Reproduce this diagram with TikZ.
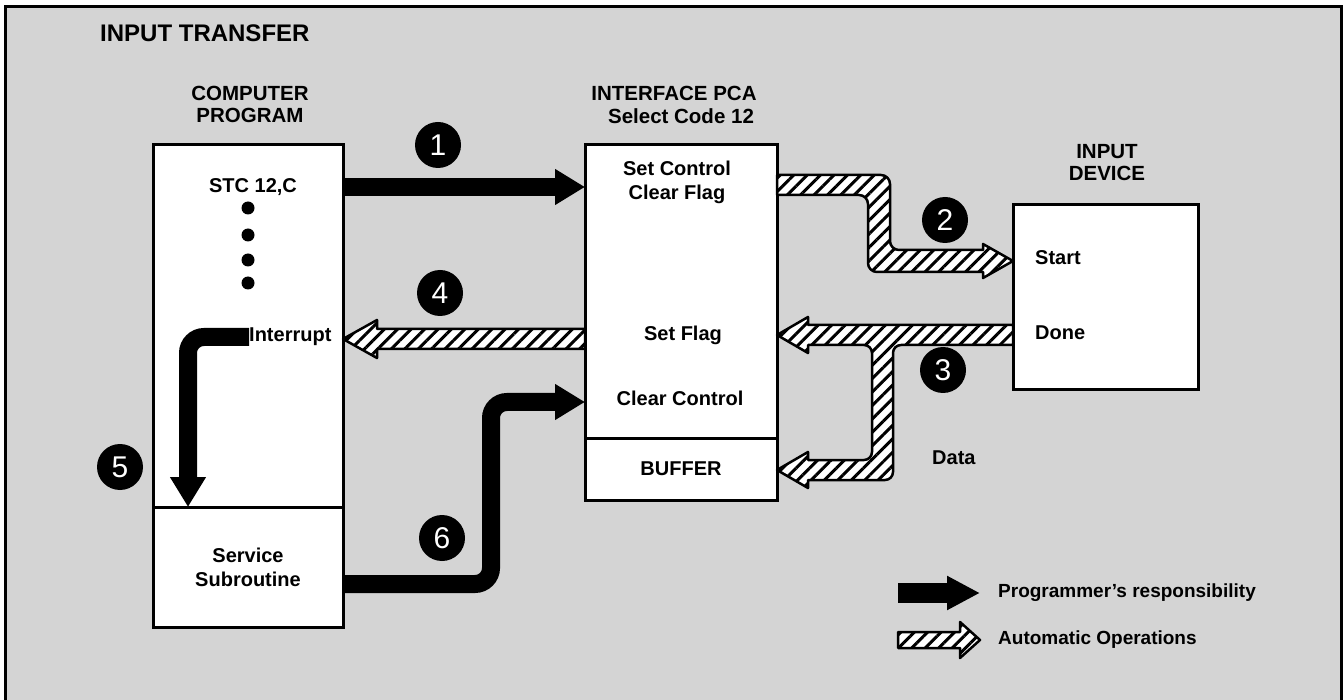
\documentclass[tikz,border=0pt]{standalone}
\usepackage{fontspec}
\setmainfont{Liberation Sans}
\usetikzlibrary{arrows.meta,patterns.meta,calc}
\tikzset{
  box/.style={draw, line width=3pt, fill=white, inner sep=0pt, outer sep=0pt},
  lbl/.style={font=\bfseries\fontsize{20}{24}\selectfont, inner sep=0pt, align=center},
  head/.style={font=\bfseries\fontsize{20.5}{22}\selectfont, inner sep=0pt, align=center},
  legtext/.style={font=\bfseries\fontsize{19}{22}\selectfont, inner sep=0pt, anchor=west},
  num/.style={circle, fill=black, minimum size=46pt, inner sep=0pt, text=white, font=\fontsize{30}{30}\selectfont},
  blk/.style={line width=18pt, -{Triangle[length=30pt,width=34pt]}},
  hatch/.style={fill=white, postaction={pattern={Lines[angle=45,distance=9.5pt,line width=3pt]}}, postaction={draw, line width=2.5pt, line join=round}},
  dotmark/.style={circle, fill=black, minimum size=13pt, inner sep=0pt},
}
\begin{document}
\begin{tikzpicture}[x=1pt, y=-1pt]
\useasboundingbox (0,0) rectangle (1344,700);
% background and frame
\fill[black!17] (5,7) rectangle (1341,700);
\draw[line width=3pt] (5,700) -- (5,7) -- (1341,7) -- (1341,700);

% titles
\node[font=\bfseries\fontsize{24}{26}\selectfont, inner sep=0pt, anchor=west] (title) at (100,33) {INPUT TRANSFER};
\node[head] (comphead) at (250,104) {COMPUTER\\PROGRAM};
\node[head] (ifhead1) at (674,93) {INTERFACE PCA};
\node[head] (ifhead2) at (681,116) {Select Code 12};
\node[head] (devhead) at (1107,163) {INPUT\\DEVICE};

% boxes
\node[box, minimum width=190pt, minimum height=362pt] (prog) at (248,326) {};
\node[box, minimum width=190pt, minimum height=120pt, lbl] (serv) at (248,567) {Service\\Subroutine};
\node[box, minimum width=192pt, minimum height=293pt] (iface) at (681,291.5) {};
\node[box, minimum width=192pt, minimum height=62pt, lbl] (buf) at (681,469) {BUFFER};
\node[box, minimum width=185pt, minimum height=185pt] (dev) at (1105.5,297.5) {};

% program texts
\node[lbl] (stc) at (253,187) {STC 12,C};
\node[dotmark] (d1) at (248,208) {};
\node[dotmark] (d2) at (248,235) {};
\node[dotmark] (d3) at (248,260) {};
\node[dotmark] (d4) at (248,283) {};
\node[lbl, anchor=west] (intr) at (249,337) {Interrupt};

% interface texts
\node[lbl] (setctl) at (677,182) {Set Control\\Clear Flag};
\node[lbl] (setflag) at (683,335) {Set Flag};
\node[lbl] (clrctl) at (680,398) {Clear Control};

% device texts
\node[lbl, anchor=west] (start) at (1035,258) {Start};
\node[lbl, anchor=west] (done) at (1035,333) {Done};
\node[lbl, anchor=west] (data) at (932,458) {Data};

% black arrows
\draw[blk] (prog.east |- stc) -- (iface.west |- stc);
\draw[blk] (intr.west) [rounded corners=16pt] -| ($(serv.north west)+(35,0)$);
\draw[blk] (serv.east |- 0,584) [rounded corners=16pt] -- ++(148,0) |- (iface.west |- 0,402);

% hatched arrow 2
\path[hatch] (iface.east |- 0,175) -- ++(43,0) [rounded corners=9pt] -- ++(70,0) -- ++(0,75) -- ++(40,0)
  [sharp corners] -- ++(53,0) -- ++(0,-6) -- (dev.west |- 0,261) -- ++(-30,17) -- ++(0,-6) -- ++(-53,0)
  [rounded corners=9pt] -- ++(-62,0) -- ++(0,-77) -- ++(-48,0) [sharp corners] -- ++(-43,0) -- cycle;

% hatched arrow 3 with data branch
\path[hatch] (dev.west |- 0,325) -- ++(-205,0) -- ++(0,-8) -- (iface.east |- 0,335) -- ++(31,18) -- ++(0,-8)
  -- ++(30,0) [rounded corners=8pt] -- ++(34,0) -- ++(0,115) -- ++(-34,0)
  [sharp corners] -- ++(-30,0) -- ++(0,-8) -- (iface.east |- 0,470) -- ++(31,18) -- ++(0,-8)
  -- ++(30,0) [rounded corners=8pt] -- ++(55,0) -- ++(0,-135) -- ++(60,0)
  [sharp corners] -- (dev.west |- 0,345) -- cycle;

% hatched arrow 4
\path[hatch] (iface.west |- 0,329) -- ++(-208,0) -- ++(0,-9) -- (prog.east |- 0,339) -- ++(34,19) -- ++(0,-9)
  -- (iface.west |- 0,349) -- cycle;

% numbers
\node[num] (c1) at (438,145) {1};
\node[num] (c2) at (945,220) {2};
\node[num] (c3) at (943,370) {3};
\node[num] (c4) at (440,293) {4};
\node[num] (c5) at (120,467) {5};
\node[num] (c6) at (442,538) {6};

% legend
\node[legtext] (lt1) at (998,593) {Programmer’s responsibility};
\node[legtext] (lt2) at (998,640) {Automatic Operations};
\coordinate (lb1) at (898,593);
\draw[line width=20pt, -{Triangle[length=33pt,width=32pt]}] (lb1) -- ([xshift=-18pt]lt1.west);
\coordinate (lh) at (898,632);
\path[hatch] (lh) -- ++(62,0) -- ++(0,-10) -- ([xshift=-18pt]lt2.west) -- ++(-20,18) -- ++(0,-10) -- ++(-62,0) -- cycle;
\end{tikzpicture}
\end{document}
